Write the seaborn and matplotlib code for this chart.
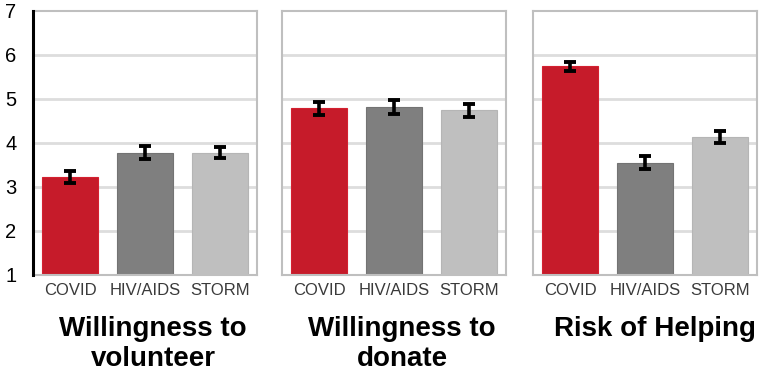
import numpy as np
import pandas as pd
import matplotlib
matplotlib.use("Agg")
import matplotlib.pyplot as plt
import seaborn as sns

sns.set_theme(style="white")
plt.rcParams['font.family'] = ['Liberation Sans', 'DejaVu Sans']

categories = ["COVID", "HIV/AIDS", "STORM"]
panel_titles = ["Willingness to\nvolunteer", "Willingness to\ndonate", "Risk of Helping"]
volunteer_means = [3.22, 3.78, 3.78]
volunteer_err = [0.14, 0.15, 0.13]
donate_means = [4.79, 4.81, 4.74]
donate_err = [0.15, 0.16, 0.15]
risk_means = [5.74, 3.55, 4.13]
risk_err = [0.10, 0.15, 0.14]
yticks = [1, 2, 3, 4, 5, 6, 7]

colors = ["#C61B2A", "#7F7F7F", "#BFBFBF"]
edges = ["#D42030", "#737373", "#B5B5B5"]

panels = [(volunteer_means, volunteer_err), (donate_means, donate_err), (risk_means, risk_err)]

fig = plt.figure(figsize=(7.65, 3.74), dpi=100)
lefts = [33, 282, 533]
pw = 224
bottom = 1 - 275 / 374
height = (275 - 11) / 374
title_cx = [153, 402, 655]

for i, ((means, errs), title) in enumerate(zip(panels, panel_titles)):
    ax = fig.add_axes([lefts[i] / 765, bottom, pw / 765, height])
    df = pd.DataFrame({"cat": categories, "val": means})
    sns.barplot(data=df, x="cat", y="val", hue="cat", palette=colors, legend=False,
                width=0.75, saturation=1, ax=ax, zorder=2)
    for p, ec in zip(ax.patches, edges):
        p.set_edgecolor(ec)
        p.set_linewidth(0.8)
    ax.errorbar(np.arange(len(categories)), means, yerr=errs, fmt="none",
                ecolor="black", elinewidth=2.6, capsize=4.6, capthick=2.8, zorder=3)
    ax.set_ylim(1, 7)
    ax.set_xlim(-0.5, 2.5)
    for g in [2, 3, 4, 5, 6]:
        ax.axhline(g, color="#DDDDDD", lw=2.0, zorder=0)
    ax.set_xlabel("")
    ax.set_ylabel("")
    ax.tick_params(axis="x", length=0, pad=6, labelsize=12, labelcolor="#3A3A3A")
    for s in ax.spines.values():
        s.set_color("#BFBFBF")
        s.set_linewidth(1.5)
    if i == 0:
        ax.set_yticks(yticks)
        ax.tick_params(axis="y", length=0, pad=12, labelsize=14.5, labelcolor="black")
        ax.spines["left"].set_color("black")
        ax.spines["left"].set_linewidth(2.2)
        ax.spines["left"].set_zorder(5)
    else:
        ax.set_yticks([])
    fig.text(title_cx[i] / 765, 1 - 316 / 374, title, ha="center", va="top",
             fontsize=20, fontweight="bold", linespacing=1.2, color="black")

fig.savefig("out.png", dpi=100)
